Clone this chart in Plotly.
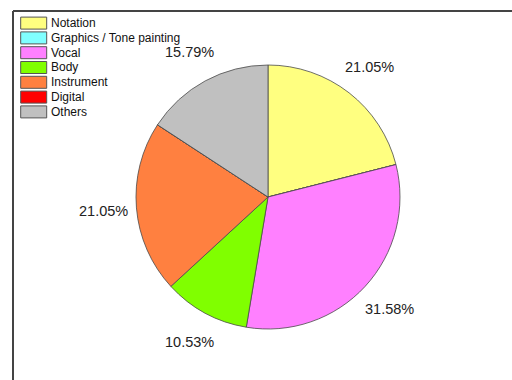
import math
import plotly.graph_objects as go

# Share of each category (percent of total)
categories = ["Notation", "Graphics / Tone painting", "Vocal", "Body",
              "Instrument", "Digital", "Others"]
percent = [21.05, 0.0, 31.58, 10.53, 21.05, 0.0, 15.79]
colors = ["#FFFF80", "#80FFFF", "#FF80FF", "#80FF00", "#FF8040", "#FF0000", "#C0C0C0"]

W, H = 512, 380
CX, CY, R = 268, 197, 132      # pie centre / radius in pixels
R_LABEL = 165                   # radius of the percentage labels
FONT = "Liberation Sans, Arial, sans-serif"


def px(x):
    return x / W


def py(y):
    return 1 - y / H


fig = go.Figure(go.Pie(
    labels=categories,
    values=percent,
    marker=dict(colors=colors, line=dict(color="#4a4a4a", width=0.8)),
    sort=False,
    direction="clockwise",
    rotation=0,
    textinfo="none",
    hoverinfo="label+percent",
    showlegend=False,
    domain=dict(x=[px(CX - R), px(CX + R)], y=[py(CY + R), py(CY - R)]),
))

annotations = []
total = sum(percent)
cum = 0.0
for cat, v in zip(categories, percent):
    if v > 0:
        mid = math.radians((cum + v / 2) / total * 360)
        annotations.append(dict(
            x=px(CX + R_LABEL * math.sin(mid)),
            y=py(CY - R_LABEL * math.cos(mid)),
            xref="paper", yref="paper", showarrow=False,
            text=f"{v:.2f}%", xanchor="center", yanchor="middle",
            font=dict(family=FONT, size=14.5, color="#222222"),
        ))
    cum += v

# Legend: swatches and names in the top-left corner
shapes = []
LEG_Y0, LEG_DY, SW_H = 23.1, 14.8, 12
for i, (cat, c) in enumerate(zip(categories, colors)):
    yc = LEG_Y0 + i * LEG_DY
    shapes.append(dict(
        type="rect", xref="paper", yref="paper",
        x0=px(20.7), x1=px(46.7), y0=py(yc - SW_H / 2), y1=py(yc + SW_H / 2),
        fillcolor=c, line=dict(color="#555555", width=1),
    ))
    annotations.append(dict(
        x=px(48.5), y=py(yc), xref="paper", yref="paper", showarrow=False,
        text=cat, xanchor="left", yanchor="middle",
        font=dict(family=FONT, size=12, color="#111111"),
    ))

# Frame lines along the top and left edges
shapes.append(dict(type="line", xref="paper", yref="paper",
                   x0=px(13), x1=1, y0=py(11), y1=py(11),
                   line=dict(color="#444444", width=2)))
shapes.append(dict(type="line", xref="paper", yref="paper",
                   x0=px(13), x1=px(13), y0=py(11), y1=0,
                   line=dict(color="#444444", width=2)))

fig.update_layout(
    width=W, height=H,
    margin=dict(l=0, r=0, t=0, b=0),
    paper_bgcolor="white", plot_bgcolor="white",
    shapes=shapes, annotations=annotations,
)

fig.write_html("out.html")
